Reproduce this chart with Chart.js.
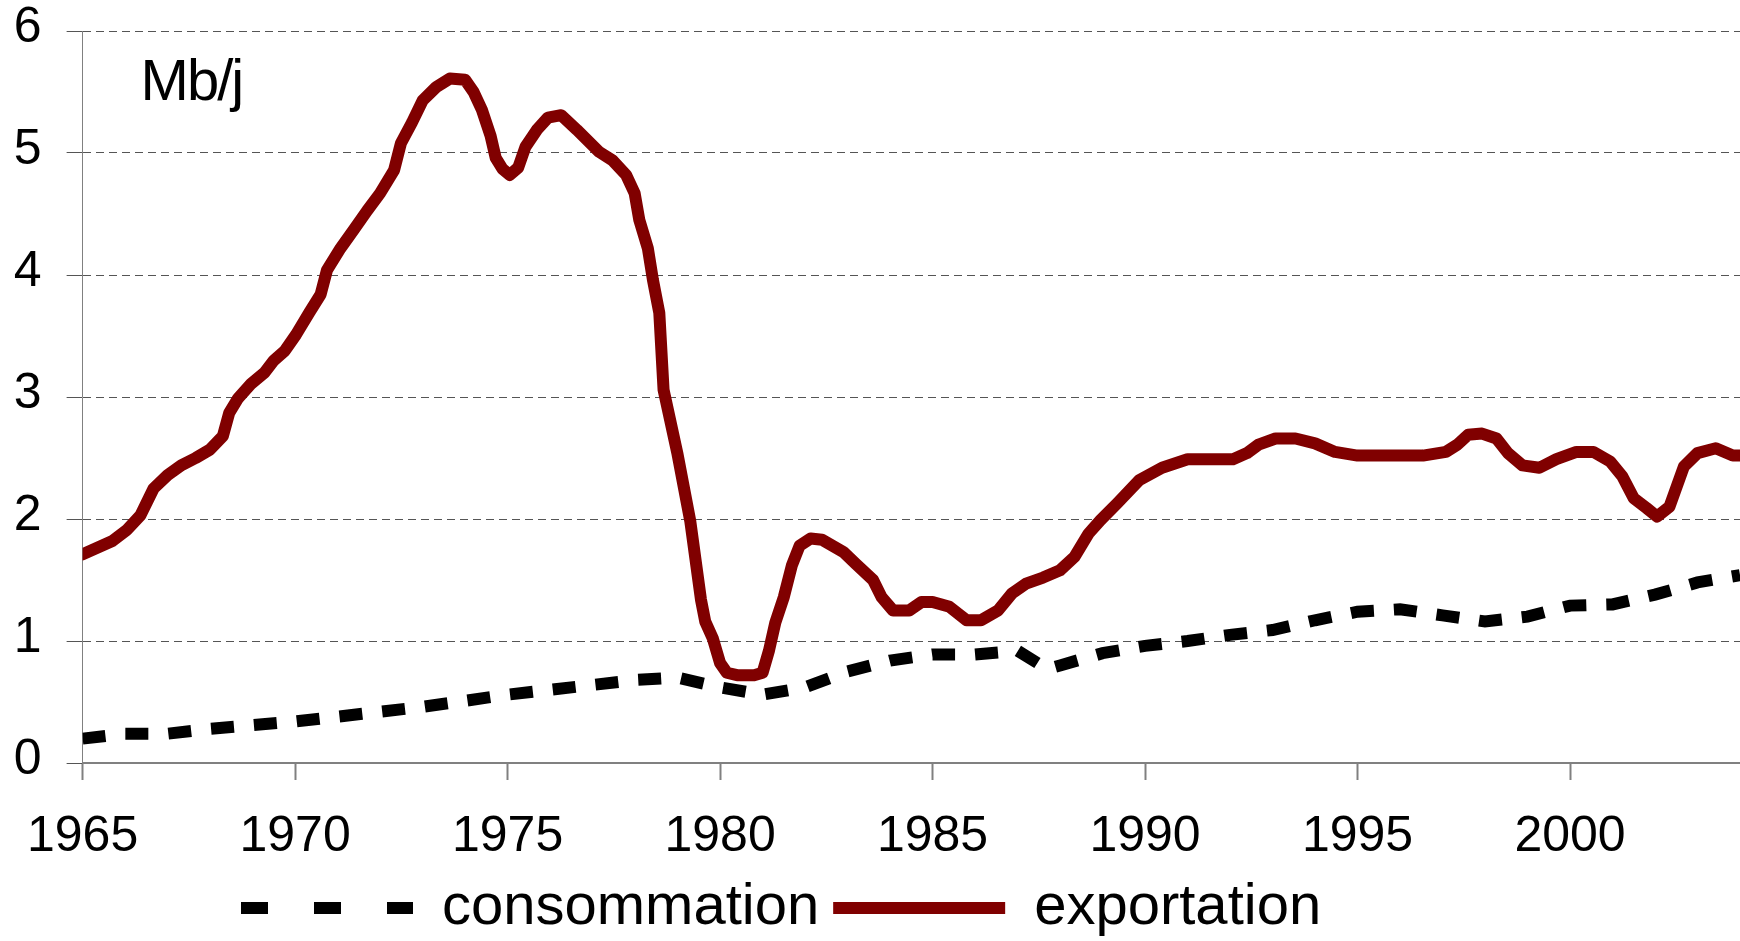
<!DOCTYPE html>
<html>
<head>
<meta charset="utf-8">
<title>Mb/j</title>
<script src="https://cdn.jsdelivr.net/npm/chart.js@4.4.1/dist/chart.umd.min.js"></script>
<style>
  html, body { margin: 0; padding: 0; background: #fff; overflow: hidden; }
  #wrap { width: 1740px; height: 941px; position: relative; }
</style>
</head>
<body>
<div id="wrap"><canvas id="chart"></canvas></div>
<script>
// consommation (annual, Mb/j)
const consoYears = [1965, 1966, 1967, 1968, 1969, 1970, 1971, 1972, 1973, 1974,
  1975, 1976, 1977, 1978, 1979, 1980, 1981, 1982, 1983, 1984,
  1985, 1986, 1987, 1987.7, 1988, 1989, 1990, 1991, 1992, 1993,
  1994, 1995, 1996, 1997, 1998, 1999, 2000, 2001, 2002, 2003, 2004];
const consoValues = [0.20, 0.24, 0.24, 0.28, 0.31, 0.34, 0.38, 0.42, 0.46, 0.51,
  0.56, 0.60, 0.64, 0.68, 0.70, 0.62, 0.56, 0.62, 0.75, 0.84,
  0.89, 0.89, 0.92, 0.77, 0.80, 0.90, 0.96, 1.00, 1.05, 1.09,
  1.17, 1.24, 1.26, 1.21, 1.16, 1.20, 1.29, 1.30, 1.38, 1.48, 1.54];

// exportation (irregular dates)
const exportYears = [1965.0, 1965.7, 1966.04, 1966.36, 1966.67, 1967.0, 1967.32, 1967.66, 1968.0, 1968.3,
  1968.45, 1968.66, 1968.97, 1969.28, 1969.5, 1969.76, 1970.02, 1970.33, 1970.6, 1970.75,
  1971.07, 1971.38, 1971.7, 1972.0, 1972.33, 1972.49, 1972.75, 1973.0, 1973.32, 1973.64,
  1974.0, 1974.2, 1974.4, 1974.6, 1974.72, 1974.88, 1975.05, 1975.25, 1975.42, 1975.69,
  1975.95, 1976.26, 1976.63, 1977.15, 1977.47, 1977.79, 1977.99, 1978.1, 1978.3, 1978.42,
  1978.57, 1978.67, 1979.0, 1979.3, 1979.55, 1979.65, 1979.83, 1980.0, 1980.16, 1980.4,
  1980.8, 1981.0, 1981.15, 1981.3, 1981.5, 1981.69, 1981.87, 1982.13, 1982.4, 1982.9,
  1983.2, 1983.6, 1983.8, 1984.07, 1984.45, 1984.74, 1985.0, 1985.4, 1985.8, 1986.14,
  1986.54, 1986.87, 1987.2, 1987.6, 1988.0, 1988.34, 1988.67, 1988.95, 1989.35, 1989.87,
  1990.4, 1991.0, 1992.07, 1992.4, 1992.67, 1993.07, 1993.54, 1994.0, 1994.47, 1995.0,
  1996.54, 1997.08, 1997.35, 1997.6, 1997.93, 1998.27, 1998.54, 1998.88, 1999.28, 1999.68,
  2000.15, 2000.55, 2000.95, 2001.23, 2001.5, 2001.8, 2002.05, 2002.34, 2002.68, 2003.0,
  2003.43, 2003.83, 2004.0];
const exportValues = [1.71, 1.82, 1.91, 2.03, 2.25, 2.36, 2.44, 2.50, 2.57, 2.68,
  2.87, 2.99, 3.11, 3.20, 3.30, 3.38, 3.51, 3.69, 3.84, 4.04,
  4.22, 4.37, 4.53, 4.67, 4.86, 5.08, 5.25, 5.43, 5.54, 5.61,
  5.60, 5.50, 5.35, 5.14, 4.96, 4.87, 4.82, 4.88, 5.05, 5.19,
  5.29, 5.31, 5.19, 5.01, 4.94, 4.82, 4.67, 4.45, 4.22, 3.96,
  3.69, 3.06, 2.53, 1.98, 1.34, 1.16, 1.02, 0.82, 0.74, 0.72,
  0.72, 0.74, 0.92, 1.15, 1.36, 1.62, 1.78, 1.84, 1.83, 1.73,
  1.63, 1.50, 1.36, 1.25, 1.25, 1.32, 1.32, 1.28, 1.17, 1.17,
  1.25, 1.39, 1.47, 1.52, 1.58, 1.69, 1.88, 1.99, 2.13, 2.32,
  2.42, 2.49, 2.49, 2.54, 2.61, 2.66, 2.66, 2.62, 2.55, 2.52,
  2.52, 2.55, 2.61, 2.69, 2.70, 2.66, 2.54, 2.44, 2.42, 2.49,
  2.55, 2.55, 2.47, 2.35, 2.17, 2.09, 2.02, 2.10, 2.43, 2.54,
  2.58, 2.52, 2.52];

const seriesLabels = ['consommation', 'exportation'];
const unitLabel = 'Mb/j';
const yearMin = 1965, yearMax = 2004;

const FONT = "'Liberation Sans', Arial, Helvetica, sans-serif";

function zip(xs, ys){
  return xs.map((x, i) => ({x: x, y: ys[i]}));
}

// unit label written inside the plot, top left
const unitText = {
  id: 'unitText',
  afterDraw(chart){
    const {ctx, chartArea} = chart;
    ctx.save();
    ctx.font = '58px ' + FONT;
    ctx.fillStyle = '#000';
    ctx.textBaseline = 'alphabetic';
    if ('letterSpacing' in ctx) ctx.letterSpacing = '-2px';
    ctx.fillText(unitLabel, chartArea.left + 58, chartArea.top + 69);
    ctx.restore();
  }
};

// the legend of the original sits left of centre
const legendShift = {
  id: 'legendShift',
  afterLayout(chart){
    const l = chart.legend;
    const w = l.right - l.left;
    l.left = 227;
    l.right = 227 + w;
  }
};

const ctx = document.getElementById('chart').getContext('2d');
const chart = new Chart(ctx, {
  type: 'line',
  data: {
    datasets: [
      {
        label: seriesLabels[0],
        data: zip(consoYears, consoValues),
        borderColor: '#000000',
        backgroundColor: '#000000',
        borderWidth: 12,
        borderDash: [23, 20],
        borderCapStyle: 'butt',
        pointRadius: 0,
        tension: 0,
        fill: false
      },
      {
        label: seriesLabels[1],
        data: zip(exportYears, exportValues),
        borderColor: '#800000',
        backgroundColor: '#800000',
        borderWidth: 12,
        borderCapStyle: 'round',
        borderJoinStyle: 'round',
        pointRadius: 0,
        tension: 0,
        fill: false
      }
    ]
  },
  options: {
    responsive: true,
    maintainAspectRatio: false,
    animation: false,
    layout: {padding: {left: 13, right: 0, top: 31, bottom: -6}},
    scales: {
      x: {
        type: 'linear',
        min: yearMin, max: yearMax,
        afterFit(s){ s.height = 102; },
        ticks: {
          stepSize: 5, includeBounds: false, padding: 27, color: '#000',
          font: {family: FONT, size: 50},
          maxRotation: 0,
          callback: v => String(v)
        },
        grid: {drawOnChartArea: false, drawTicks: true, tickLength: 17, tickColor: '#808080', tickWidth: 2, color: '#808080'},
        border: {color: '#808080', width: 2}
      },
      y: {
        min: 0, max: 6,
        afterFit(s){ s.width = 68; s.paddingTop = 0; s.paddingBottom = 0; },
        ticks: {
          stepSize: 1, padding: 25, color: '#000', labelOffset: -3,
          font: {family: FONT, size: 50}
        },
        grid: {color: '#555555', lineWidth: 1, tickLength: 16, tickColor: '#555555', tickWidth: 1},
        border: {color: '#808080', width: 1, dash: [8, 5]}
      }
    },
    plugins: {
      tooltip: {enabled: false},
      legend: {
        position: 'bottom',
        align: 'start',
        labels: {
          usePointStyle: true,
          pointStyle: 'line',
          pointStyleWidth: 172,
          padding: 14,
          color: '#000',
          font: {family: FONT, size: 58},
          generateLabels(c){
            const items = Chart.defaults.plugins.legend.labels.generateLabels(c);
            items.forEach(it => { it.pointStyle = 'line'; });
            items[0].lineDash = [27, 46];
            return items;
          }
        }
      }
    }
  },
  plugins: [unitText, legendShift]
});
</script>
</body>
</html>
